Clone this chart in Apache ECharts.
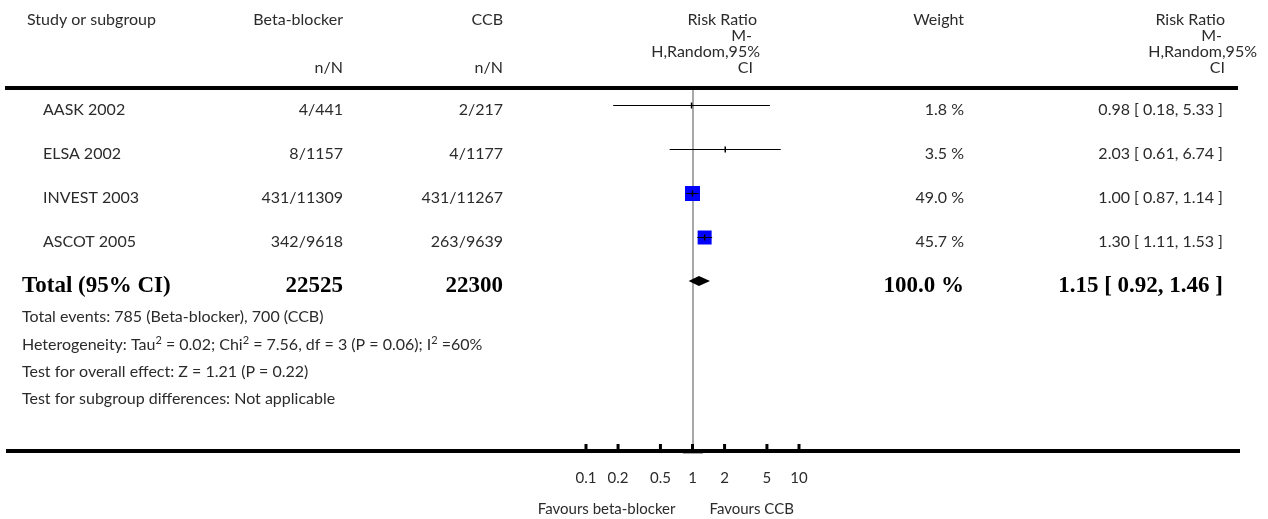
<!DOCTYPE html>
<html>
<head>
<meta charset="utf-8">
<script src="https://cdn.jsdelivr.net/npm/echarts@6/dist/echarts.min.js"></script>
<style>
  html, body { margin: 0; padding: 0; background: #ffffff; }
  #chart { width: 1268px; height: 519px; }
</style>
</head>
<body>
<div id="chart"></div>
<script>
// ---- data ----
const studies = ['AASK 2002', 'ELSA 2002', 'INVEST 2003', 'ASCOT 2005'];
const bbEvents = ['4/441', '8/1157', '431/11309', '342/9618'];
const ccbEvents = ['2/217', '4/1177', '431/11267', '263/9639'];
const weights = [1.8, 3.5, 49.0, 45.7];
const rrEst = [0.98, 2.03, 1.00, 1.30];
const rrLow = [0.18, 0.61, 0.87, 1.11];
const rrHigh = [5.33, 6.74, 1.14, 1.53];

const totalLabel = 'Total (95% CI)';
const totalN = ['22525', '22300'];
const totalWeight = 100.0;
const totalRR = [1.15, 0.92, 1.46];

// footnote lines; {s|..} marks a superscript
const footnotes = [
  '{n|Total events: 785 (Beta-blocker), 700 (CCB)}',
  '{n|Heterogeneity: Tau}{s|2}{n| = 0.02; Chi}{s|2}{n| = 7.56, df = 3 (P = 0.06); I}{s|2}{n| =60%}',
  '{n|Test for overall effect: Z = 1.21 (P = 0.22)}',
  '{n|Test for subgroup differences: Not applicable}'
];

const tickValues = [0.1, 0.2, 0.5, 1, 2, 5, 10];
const tickLabels = ['0.1', '0.2', '0.5', '1', '2', '5', '10'];
const favourLeft = 'Favours beta-blocker';
const favourRight = 'Favours CCB';

// ---- layout ----
const ROW_H = 44;
const GRID_TOP = 83;
const AXIS_Y = 451;
const GRID_BOTTOM = 519 - AXIS_Y;
const Y_MAX = (AXIS_Y - GRID_TOP) / ROW_H;
const FONT = 'Lato, "Open Sans", sans-serif';
const SERIF = '"Liberation Serif", "DejaVu Serif", serif';
const TXT = '#2b2b2b';
const BODY = '16px ' + FONT;
const SMALL = '15px ' + FONT;
const BOLD = 'bold 23px ' + SERIF;

const fmt2 = v => v.toFixed(2);
const ciText = (e, l, h) => fmt2(e) + ' [ ' + fmt2(l) + ', ' + fmt2(h) + ' ]';
const textY = i => GRID_TOP + (i + 0.5) * ROW_H + 5;

function txt(text, x, y, align, font, fill) {
  return {
    type: 'text', x: x, y: y, silent: true,
    style: { text: text, font: font || BODY, fill: fill || TXT,
             align: align || 'left', verticalAlign: 'middle' }
  };
}

// table texts
const graphics = [];
graphics.push(txt('Study or subgroup', 27, 20, 'left'));
graphics.push(txt('Beta-blocker', 343, 20, 'right'));
graphics.push(txt('CCB', 503, 20, 'right'));
graphics.push(txt('n/N', 343, 68, 'right'));
graphics.push(txt('n/N', 503, 68, 'right'));
graphics.push(txt('Weight', 964, 20, 'right'));
// Risk ratio header, plot column
graphics.push(txt('Risk Ratio', 757, 20, 'right'));
graphics.push(txt('M-', 752, 36, 'right'));
graphics.push(txt('H,Random,95%', 760, 52, 'right'));
graphics.push(txt('CI', 753, 68, 'right'));
// Risk ratio header, numeric column
graphics.push(txt('Risk Ratio', 1225, 20, 'right'));
graphics.push(txt('M-', 1222, 36, 'right'));
graphics.push(txt('H,Random,95%', 1257, 52, 'right'));
graphics.push(txt('CI', 1225, 68, 'right'));

// header rule and axis rule
graphics.push({ type: 'rect', silent: true, shape: { x: 5, y: 86, width: 1233, height: 4 }, style: { fill: '#000' } });
graphics.push({ type: 'rect', silent: true, shape: { x: 6, y: AXIS_Y - 2, width: 1234, height: 4 }, style: { fill: '#000' } });

studies.forEach((s, i) => {
  const y = textY(i);
  graphics.push(txt(s, 43, y, 'left'));
  graphics.push(txt(bbEvents[i], 343, y, 'right'));
  graphics.push(txt(ccbEvents[i], 503, y, 'right'));
  graphics.push(txt(weights[i].toFixed(1) + ' %', 964, y, 'right'));
  graphics.push(txt(ciText(rrEst[i], rrLow[i], rrHigh[i]), 1223, y, 'right'));
});

const ty = textY(studies.length);
graphics.push(txt(totalLabel, 22, ty, 'left', BOLD, '#000'));
graphics.push(txt(totalN[0], 343, ty, 'right', BOLD, '#000'));
graphics.push(txt(totalN[1], 503, ty, 'right', BOLD, '#000'));
graphics.push(txt(totalWeight.toFixed(1) + ' %', 964, ty, 'right', BOLD, '#000'));
graphics.push(txt(ciText(totalRR[0], totalRR[1], totalRR[2]), 1223, ty, 'right', BOLD, '#000'));

const footY = [317, 345, 372, 399];
footnotes.forEach((f, i) => graphics.push({
  type: 'text', x: 22, y: footY[i], silent: true,
  style: {
    text: f, align: 'left', verticalAlign: 'middle',
    rich: {
      n: { font: BODY, fill: TXT, lineHeight: 20, verticalAlign: 'middle' },
      s: { font: '11px ' + FONT, fill: TXT, lineHeight: 20, verticalAlign: 'top' }
    }
  }
}));

// ---- series data ----
const studyData = studies.map((s, i) => [rrEst[i], rrLow[i], rrHigh[i], weights[i], i + 0.5]);
const totalData = [[totalRR[0], totalRR[1], totalRR[2], studies.length + 0.5]];
const tickData = tickValues.map((v, i) => [v, Y_MAX]);

const chart = echarts.init(document.getElementById('chart'));

chart.setOption({
  animation: false,
  backgroundColor: '#ffffff',
  grid: { left: 586, right: 1268 - 799, top: GRID_TOP, bottom: GRID_BOTTOM },
  xAxis: { type: 'log', logBase: 10, min: 0.1, max: 10, show: false },
  yAxis: { type: 'value', min: 0, max: Y_MAX, inverse: true, show: false },
  graphic: graphics,
  series: [
    {
      // line of no effect
      type: 'custom',
      data: [[1, 0]],
      encode: { x: 0, y: 1 },
      z: 1,
      renderItem: function (params, api) {
        const x = Math.round(api.coord([api.value(0), 0])[0]);
        return {
          type: 'group',
          children: [
            { type: 'line', shape: { x1: x, y1: 90, x2: x, y2: AXIS_Y - 6 },
              style: { stroke: '#a8a8a8', lineWidth: 2 } },
            { type: 'line', shape: { x1: x - 10, y1: AXIS_Y + 2.5, x2: x + 10, y2: AXIS_Y + 2.5 },
              style: { stroke: '#a8a8a8', lineWidth: 1 } }
          ]
        };
      }
    },
    {
      // individual studies: weighted box and confidence interval
      type: 'custom',
      data: studyData,
      encode: { x: [0, 1, 2], y: 4 },
      z: 3,
      renderItem: function (params, api) {
        const yv = api.value(4);
        const pe = api.coord([api.value(0), yv]);
        const pl = api.coord([api.value(1), yv]);
        const ph = api.coord([api.value(2), yv]);
        const side = 15 * api.value(3) / 49;
        const y = Math.round(pe[1]) + 0.5;
        return {
          type: 'group',
          children: [
            { type: 'rect', shape: { x: pe[0] - side / 2, y: y - side / 2, width: side, height: side },
              style: { fill: '#0000ff' } },
            { type: 'line', shape: { x1: pl[0], y1: y, x2: ph[0], y2: y },
              style: { stroke: '#000', lineWidth: 1 } },
            { type: 'line', shape: { x1: pe[0], y1: y - 3, x2: pe[0], y2: y + 3 },
              style: { stroke: '#000', lineWidth: 1.5 } }
          ]
        };
      }
    },
    {
      // pooled estimate diamond
      type: 'custom',
      data: totalData,
      encode: { x: [0, 1, 2], y: 3 },
      z: 3,
      renderItem: function (params, api) {
        const yv = api.value(3);
        const pe = api.coord([api.value(0), yv]);
        const pl = api.coord([api.value(1), yv]);
        const ph = api.coord([api.value(2), yv]);
        return {
          type: 'polygon',
          shape: { points: [[pl[0], pe[1]], [pe[0], pe[1] - 5], [ph[0], pe[1]], [pe[0], pe[1] + 5]] },
          style: { fill: '#000' }
        };
      }
    },
    {
      // axis ticks and labels
      type: 'custom',
      data: tickData,
      encode: { x: 0, y: 1 },
      z: 4,
      renderItem: function (params, api) {
        const p = api.coord([api.value(0), api.value(1)]);
        const label = tickLabels[params.dataIndex];
        return {
          type: 'group',
          children: [
            { type: 'rect', shape: { x: p[0] - 1.5, y: p[1] - 7, width: 3, height: 6 },
              style: { fill: '#000' } },
            { type: 'text', style: { text: label, x: p[0], y: p[1] + 27, align: 'center',
              verticalAlign: 'middle', font: SMALL, fill: TXT } }
          ]
        };
      }
    },
    {
      // favour labels either side of the line of no effect
      type: 'custom',
      data: [[1, Y_MAX]],
      encode: { x: 0, y: 1 },
      renderItem: function (params, api) {
        const p = api.coord([api.value(0), api.value(1)]);
        return {
          type: 'group',
          children: [
            { type: 'text', style: { text: favourLeft, x: p[0] - 17, y: p[1] + 58, align: 'right',
              verticalAlign: 'middle', font: SMALL, fill: TXT } },
            { type: 'text', style: { text: favourRight, x: p[0] + 17, y: p[1] + 58, align: 'left',
              verticalAlign: 'middle', font: SMALL, fill: TXT } }
          ]
        };
      }
    }
  ]
});
</script>
</body>
</html>
